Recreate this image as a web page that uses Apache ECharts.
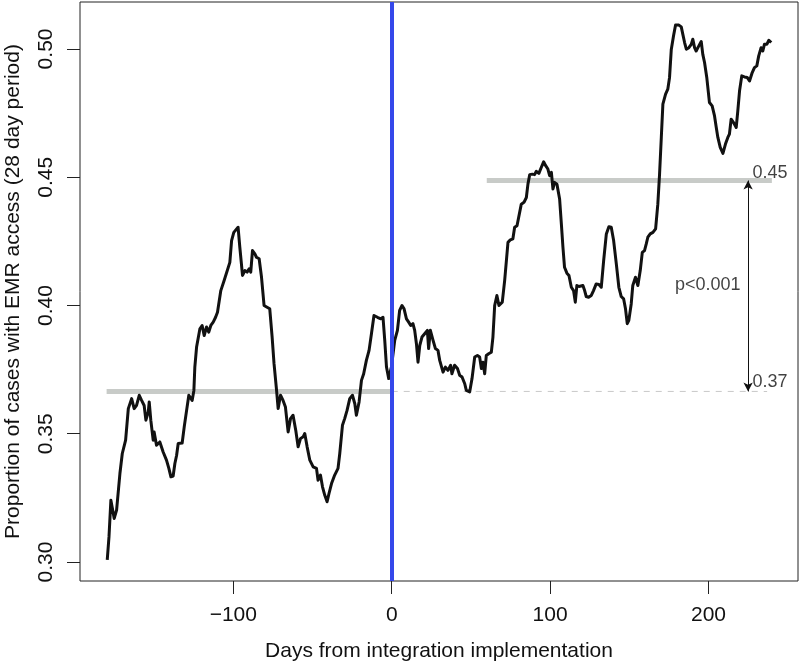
<!DOCTYPE html>
<html>
<head>
<meta charset="utf-8">
<script src="https://cdn.jsdelivr.net/npm/echarts@6/dist/echarts.min.js"></script>
<style>
  html, body { margin: 0; padding: 0; background: #fff; }
  #chart { width: 799px; height: 664px; }
</style>
</head>
<body>
<div id="chart"></div>
<script>
// days relative to go-live
var days = [
  -179.6, -178.5, -177.3, -175.2, -173.7, -171.6, -170.1, -168.0, -166.3, -164.2,
  -162.6, -161.1, -159.4, -157.9, -156.3, -155.2, -153.7, -153.1, -152.1, -150.6,
  -150.0, -148.5, -146.4, -144.3, -142.2, -140.7, -139.4, -138.0, -136.9, -135.8,
  -134.8, -132.3, -131.0, -129.5, -128.1, -126.0, -124.9, -124.3, -123.2, -121.1,
  -119.7, -118.4, -116.9, -115.5, -114.2, -112.7, -111.2, -110.0, -109.1, -107.9,
  -105.8, -102.2, -101.1, -99.7, -97.0, -95.9, -94.2, -92.7, -91.3, -90.0,
  -89.0, -87.9, -86.4, -85.4, -83.7, -82.2, -80.6, -78.7, -77.0, -75.5,
  -74.3, -72.7, -71.7, -70.2, -68.6, -67.1, -65.4, -63.9, -62.3, -60.6,
  -59.1, -57.6, -55.9, -54.9, -53.4, -51.7, -49.6, -47.5, -46.5, -45.0,
  -43.7, -42.3, -40.8, -39.6, -38.0, -36.0, -33.9, -32.8, -31.1, -29.7,
  -28.2, -26.5, -24.8, -23.3, -22.3, -20.6, -19.1, -17.7, -16.0, -14.3,
  -12.8, -11.2, -9.0, -6.9, -5.5, -4.4, -3.3, -1.9, -0.2, 1.9,
  3.6, 5.0, 6.5, 7.8, 9.3, 10.7, 12.0, 13.4, 14.5, 15.6,
  16.6, 17.7, 19.1, 20.8, 22.5, 23.3, 24.4, 26.1, 27.6, 29.2,
  30.3, 31.4, 32.4, 33.9, 35.5, 37.2, 38.0, 39.7, 41.5, 42.9,
  44.4, 46.1, 47.1, 49.2, 50.7, 52.4, 54.1, 55.5, 56.6, 57.6,
  58.7, 59.7, 61.2, 62.9, 63.9, 65.0, 66.4, 67.7, 69.8, 71.3,
  73.4, 74.9, 76.5, 77.6, 79.1, 80.3, 81.8, 83.5, 85.0, 86.0,
  87.1, 88.8, 90.2, 91.3, 92.9, 94.4, 95.9, 97.2, 98.6, 99.7,
  100.8, 101.8, 102.8, 104.3, 106.0, 107.1, 108.1, 109.1, 110.6, 111.9,
  113.4, 114.8, 115.9, 116.9, 118.2, 119.2, 120.7, 121.8, 122.8, 124.3,
  126.0, 127.4, 129.1, 130.8, 132.3, 133.8, 135.5, 137.1, 138.6, 140.1,
  141.8, 143.4, 144.9, 146.4, 147.6, 148.7, 149.7, 151.2, 152.2, 153.9,
  155.4, 156.9, 158.2, 159.6, 160.7, 161.7, 163.2, 164.9, 166.6, 168.0,
  169.1, 170.2, 171.2, 172.9, 174.3, 175.4, 176.5, 177.9, 179.2, 181.3,
  182.8, 183.8, 184.9, 186.0, 187.6, 189.1, 190.1, 191.2, 192.2, 193.9,
  195.4, 196.4, 197.5, 198.9, 200.6, 202.3, 203.8, 204.9, 205.9, 207.4,
  209.1, 210.7, 212.2, 213.2, 214.3, 215.8, 217.5, 218.5, 219.6, 221.0,
  222.7, 224.4, 225.9, 227.6, 229.0, 230.5, 231.7, 233.2, 234.3, 235.3,
  236.8, 238.1, 239.6
];

// rolling 28-day proportion of cases with EMR access
var emrProp = [
  0.3008, 0.3098, 0.3241, 0.3170, 0.3202, 0.3345, 0.3423, 0.3475, 0.3598, 0.3637,
  0.3598, 0.3611, 0.3650, 0.3630, 0.3610, 0.3553, 0.3585, 0.3624, 0.3553, 0.3475,
  0.3507, 0.3455, 0.3468, 0.3429, 0.3397, 0.3365, 0.3332, 0.3335, 0.3384, 0.3416,
  0.3462, 0.3464, 0.3527, 0.3591, 0.3650, 0.3630, 0.3669, 0.3760, 0.3838, 0.3909,
  0.3922, 0.3883, 0.3916, 0.3896, 0.3922, 0.3935, 0.3954, 0.3974, 0.3968, 0.4058,
  0.4097, 0.4168, 0.4253, 0.4285, 0.4305, 0.4227, 0.4117, 0.4136, 0.4130, 0.4143,
  0.4130, 0.4214, 0.4201, 0.4188, 0.4182, 0.4110, 0.4000, 0.3993, 0.3987, 0.3877,
  0.3773, 0.3669, 0.3598, 0.3650, 0.3630, 0.3604, 0.3507, 0.3559, 0.3572, 0.3514,
  0.3449, 0.3481, 0.3488, 0.3501, 0.3449, 0.3397, 0.3371, 0.3365, 0.3319, 0.3339,
  0.3293, 0.3261, 0.3235, 0.3267, 0.3306, 0.3339, 0.3365, 0.3423, 0.3533, 0.3559,
  0.3591, 0.3637, 0.3650, 0.3617, 0.3572, 0.3624, 0.3708, 0.3734, 0.3786, 0.3825,
  0.3890, 0.3961, 0.3954, 0.3948, 0.3954, 0.3864, 0.3760, 0.3715, 0.3760, 0.3864,
  0.3903, 0.3981, 0.4000, 0.3987, 0.3948, 0.3935, 0.3922, 0.3929, 0.3903, 0.3851,
  0.3779, 0.3844, 0.3877, 0.3890, 0.3903, 0.3832, 0.3903, 0.3864, 0.3832, 0.3825,
  0.3786, 0.3793, 0.3740, 0.3760, 0.3747, 0.3767, 0.3734, 0.3767, 0.3754, 0.3728,
  0.3721, 0.3695, 0.3669, 0.3663, 0.3715, 0.3799, 0.3805, 0.3799, 0.3754, 0.3779,
  0.3734, 0.3805, 0.3812, 0.3818, 0.3877, 0.4000, 0.4039, 0.4000, 0.4013, 0.4097,
  0.4246, 0.4256, 0.4260, 0.4305, 0.4311, 0.4318, 0.4395, 0.4402, 0.4421, 0.4473,
  0.4510, 0.4512, 0.4510, 0.4523, 0.4515, 0.4538, 0.4560, 0.4545, 0.4532, 0.4506,
  0.4519, 0.4454, 0.4480, 0.4473, 0.4415, 0.4318, 0.4227, 0.4149, 0.4126, 0.4117,
  0.4071, 0.4058, 0.4013, 0.4078, 0.4074, 0.4071, 0.4078, 0.4058, 0.4035, 0.4032,
  0.4039, 0.4058, 0.4084, 0.4082, 0.4071, 0.4175, 0.4279, 0.4307, 0.4305, 0.4253,
  0.4162, 0.4071, 0.4035, 0.4026, 0.3987, 0.3929, 0.3942, 0.4006, 0.4078, 0.4110,
  0.4078, 0.4136, 0.4207, 0.4214, 0.4240, 0.4266, 0.4279, 0.4285, 0.4299, 0.4395,
  0.4512, 0.4655, 0.4785, 0.4824, 0.4843, 0.4889, 0.4998, 0.5050, 0.5093, 0.5093,
  0.5086, 0.5057, 0.5025, 0.4999, 0.5005, 0.5018, 0.5038, 0.5005, 0.4992, 0.5012,
  0.5029, 0.4979, 0.4947, 0.4889, 0.4791, 0.4778, 0.4739, 0.4694, 0.4655, 0.4616,
  0.4593, 0.4629, 0.4655, 0.4668, 0.4726, 0.4713, 0.4694, 0.4759, 0.4837, 0.4895,
  0.4891, 0.4889, 0.4875, 0.4908, 0.4927, 0.4934, 0.4973, 0.5005, 0.4992, 0.5018,
  0.5018, 0.5034, 0.5025
];

var xTicks = [-100, 0, 100, 200];
var yTicks = [0.30, 0.35, 0.40, 0.45, 0.50];

// pre / post means
var preMean = 0.3665;
var postMean = 0.4487;

var font = '"Liberation Sans", Arial, Helvetica, sans-serif';

var myChart = echarts.init(document.getElementById('chart'));

var lineData = days.map(function (d, i) { return [d, emrProp[i]]; });

var option = {
    animation: false,
    backgroundColor: '#fff',
    grid: {
        left: 80,
        right: 1,
        top: 2,
        bottom: 83,
        show: true,
        borderColor: '#222',
        borderWidth: 1,
        outerBoundsMode: 'none'
    },
    xAxis: {
        type: 'value',
        min: -196.8,
        max: 256.5,
        name: 'Days from integration implementation',
        nameLocation: 'middle',
        nameGap: 60,
        nameTextStyle: { fontFamily: font, fontSize: 21, color: '#111' },
        axisLine: { show: false, onZero: false },
        axisTick: { show: true, inside: false, length: 13, customValues: xTicks,
            lineStyle: { color: '#222', width: 1 } },
        axisLabel: { customValues: xTicks, margin: 24, fontFamily: font, fontSize: 21, color: '#111',
            formatter: function (v) { return v < 0 ? '\u2212' + Math.abs(v) : String(v); } },
        splitLine: { show: false }
    },
    yAxis: {
        type: 'value',
        min: 0.2926,
        max: 0.5183,
        name: 'Proportion of cases with EMR access (28 day period)',
        nameLocation: 'middle',
        nameGap: 56,
        nameTextStyle: { fontFamily: font, fontSize: 21, color: '#111' },
        axisLine: { show: false, onZero: false },
        axisTick: { show: true, inside: false, length: 13, customValues: yTicks,
            lineStyle: { color: '#222', width: 1 } },
        axisLabel: { customValues: yTicks, rotate: 90, margin: 23, fontFamily: font, fontSize: 21, color: '#111',
            formatter: function (v) { return v.toFixed(2); } },
        splitLine: { show: false }
    },
    series: [
        {
            // pre-period mean
            type: 'line',
            data: [[-180, preMean], [0, preMean]],
            symbol: 'none',
            silent: true,
            lineStyle: { color: '#c8cbc8', width: 5 },
            z: 1
        },
        {
            // post-period mean
            type: 'line',
            data: [[60, postMean], [240, postMean]],
            symbol: 'none',
            silent: true,
            lineStyle: { color: '#c8cbc8', width: 5 },
            z: 1
        },
        {
            // pre mean carried forward
            type: 'line',
            data: [[0, preMean], [237, preMean]],
            symbol: 'none',
            silent: true,
            lineStyle: { color: '#c8c8c8', width: 1, type: [6, 6] },
            z: 1
        },
        {
            type: 'line',
            data: lineData,
            symbol: 'none',
            silent: true,
            lineStyle: { color: '#111', width: 3, join: 'round' },
            z: 3,
            markLine: {
                silent: true,
                symbol: ['arrow', 'arrow'],
                symbolSize: [7, 9],
                label: { show: false },
                lineStyle: { color: '#111', width: 1, type: 'solid' },
                data: [[{ coord: [225, postMean] }, { coord: [225, preMean] }]]
            }
        },
        {
            // implementation day
            type: 'line',
            data: [],
            silent: true,
            z: 4,
            markLine: {
                silent: true,
                symbol: ['none', 'none'],
                label: { show: false },
                lineStyle: { color: '#3548ea', width: 4, type: 'solid' },
                data: [{ xAxis: 0 }]
            }
        },
        {
            type: 'scatter',
            silent: true,
            symbolSize: 0,
            z: 5,
            label: { show: true, fontFamily: font, fontSize: 18, color: '#111' },
            data: [
                { value: [227.8, 0.4518], label: { position: 'right', distance: 0, formatter: '0.45' } },
                { value: [227.8, 0.3700], label: { position: 'right', distance: 0, formatter: '0.37' } },
                { value: [220.2, 0.4078], label: { position: 'left', distance: 0, formatter: 'p<0.001' } }
            ]
        }
    ]
};

myChart.setOption(option, true);
</script>
</body>
</html>
